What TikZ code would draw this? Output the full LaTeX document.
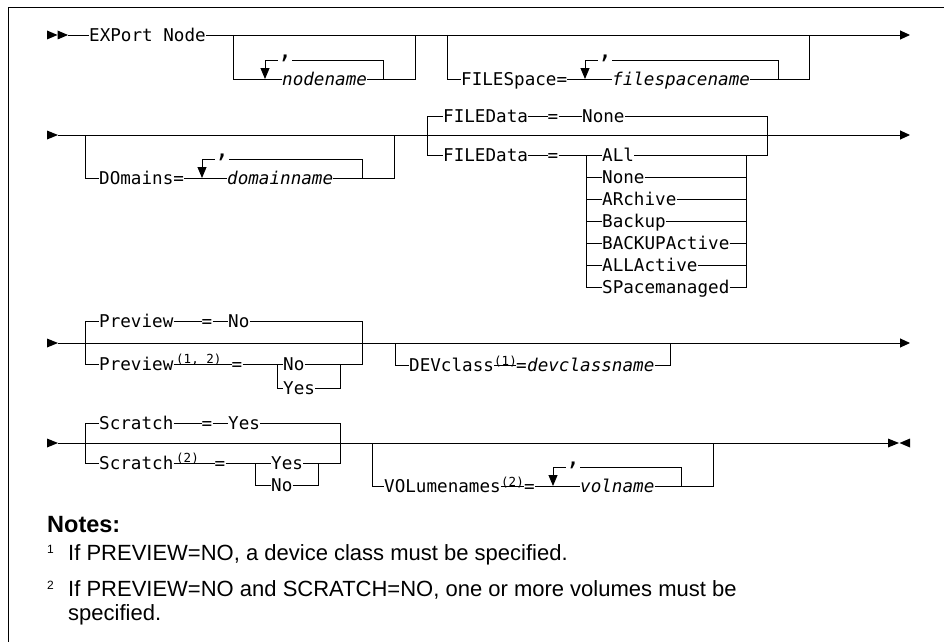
\documentclass[tikz,border=0pt]{standalone}
\usepackage{fontspec}
\setmainfont{Liberation Sans}
\newfontfamily\mono{DejaVu Sans Mono}
\usetikzlibrary{arrows.meta}
\begin{document}
\begin{tikzpicture}[x=1pt,y=-1pt,
  rail/.style={line width=0.9pt},
  kw/.style={font=\mono\fontsize{17.6}{20}\selectfont, inner sep=0pt, text height=12.8pt, text depth=0pt, anchor=west},
  var/.style={kw, font=\mono\itshape\fontsize{17.6}{20}\selectfont},
  eqs/.style={kw, anchor=center},
  sup/.style={font=\mono\fontsize{12.5}{14}\selectfont, inner sep=0pt, anchor=base west},
  comma/.style={font=\mono\fontsize{24}{26}\selectfont, inner sep=0pt, text height=0pt, text depth=0pt, anchor=center},
  tip/.style={rail,-{Triangle[width=9pt,length=10pt]}},
  down/.style={rail,-{Triangle[width=9pt,length=11pt]}},
  note/.style={font=\fontsize{22}{24}\selectfont, inner sep=0pt, anchor=base west},
  nsup/.style={font=\fontsize{12}{14}\selectfont, inner sep=0pt, anchor=base west},
]
\useasboundingbox (0,0) rectangle (944,642);
% frame
\coordinate (fr1) at (944,7); \coordinate (fr2) at (8,7); \coordinate (fr3) at (8,642);
\draw[rail] (fr1) -- (fr2) -- (fr3);

% ================= Row 1 =================
\fill (47,30.5) -- (57.5,35) -- (47,39.5) -- cycle;
\fill (57.5,30.5) -- (68,35) -- (57.5,39.5) -- cycle;
\coordinate (s1) at (68,35);
\coordinate (e1) at (910,35);
\node[kw] (exp) at (89,35) {EXPort Node};
\draw[rail] (s1) -- (exp);
\draw[tip] (exp) -- (e1);
% nodename bracket
\coordinate (b1l) at (233,35); \coordinate (b1r) at (415,35);
\node[var] (nn) at (282,79) {nodename};
\draw[rail] (b1l) |- (nn.west);
\draw[rail] (nn.east) -| (b1r);
\coordinate (l1a) at (265,79); \coordinate (l1b) at (383,79);
\node[comma] (c1) at (285,58.5) {,};
\draw[rail] (l1b) |- ([yshift=-1.5pt]c1.east);
\draw[down] ([yshift=-1.5pt]c1.west) -| (l1a);
% FILESpace bracket
\coordinate (b2l) at (447,35); \coordinate (b2r) at (809,35);
\node[kw] (fs) at (461,79) {FILESpace=};
\node[var] (fsn) at (612,79) {filespacename};
\draw[rail] (b2l) |- (fs.west);
\draw[rail] (fs.east) -- (fsn.west);
\draw[rail] (fsn.east) -| (b2r);
\coordinate (l2a) at (585,79); \coordinate (l2b) at (778,79);
\node[comma] (c2) at (605,58.5) {,};
\draw[rail] (l2b) |- ([yshift=-1.5pt]c2.east);
\draw[down] ([yshift=-1.5pt]c2.west) -| (l2a);

% ================= Row 2 =================
\fill (47,130.5) -- (58,135) -- (47,139.5) -- cycle;
\coordinate (s2) at (58,135); \coordinate (e2) at (910,135);
\draw[tip] (s2) -- (e2);
% DOmains bracket
\coordinate (b3l) at (85,135); \coordinate (b3r) at (394,135);
\node[kw] (dom) at (99,178) {DOmains=};
\node[var] (domn) at (227,178) {domainname};
\draw[rail] (b3l) |- (dom.west);
\draw[rail] (dom.east) -- (domn.west);
\draw[rail] (domn.east) -| (b3r);
\coordinate (l3a) at (202,178); \coordinate (l3b) at (362,178);
\node[comma] (c3) at (222,157.5) {,};
\draw[rail] (l3b) |- ([yshift=-1.5pt]c3.east);
\draw[down] ([yshift=-1.5pt]c3.west) -| (l3a);
% FILEData block
\coordinate (fdl) at (427,116); \coordinate (fdr) at (767,116);
\node[kw] (fd1) at (443,116) {FILEData};
\node[eqs] (fq1) at (553,116) {=};
\node[kw] (fnone) at (582,116) {None};
\draw[rail] (fdl) -- (fd1);
\draw[rail] (fd1) -- (fq1);
\draw[rail] (fq1) -- (fnone);
\draw[rail] (fnone) -- (fdr);
\node[kw] (fd2) at (443,155) {FILEData};
\node[eqs] (fq2) at (553,155) {=};
\draw[rail] (fdl) |- (fd2.west);
\draw[rail] (fd2) -- (fq2);
\coordinate (chl) at (586,155); \coordinate (chr) at (746,155);
\node[kw] (ch1) at (602,155) {ALl};
\node[kw] (ch2) at (602,177) {None};
\node[kw] (ch3) at (602,199) {ARchive};
\node[kw] (ch4) at (602,221) {Backup};
\node[kw] (ch5) at (602,243) {BACKUPActive};
\node[kw] (ch6) at (602,265) {ALLActive};
\node[kw] (ch7) at (602,287) {SPacemanaged};
\draw[rail] (fq2) -- (ch1);
\draw[rail] (chl) |- (ch7.west);
\foreach \c in {ch2,ch3,ch4,ch5,ch6} {
  \draw[rail] (chl |- \c.west) -- (\c.west);
  \draw[rail] (\c.east) -- (chr |- \c.east);
}
\draw[rail] (ch7.east) -| (chr);
\draw[rail] (ch1.east) -| (fdr);

% ================= Row 3 =================
\fill (47,338.5) -- (58,343) -- (47,347.5) -- cycle;
\coordinate (s3) at (58,343); \coordinate (e3) at (910,343);
\draw[tip] (s3) -- (e3);
% Preview
\coordinate (pvl) at (85,321); \coordinate (pvr) at (362,321);
\node[kw] (pv1) at (99,321) {Preview};
\node[eqs] (pq1) at (207,321) {=};
\node[kw] (pno) at (228,321) {No};
\draw[rail] (pvl) -- (pv1);
\draw[rail] (pv1) -- (pq1);
\draw[rail] (pq1) -- (pno);
\draw[rail] (pno) -- (pvr);
\node[kw] (pv2) at (99,364) {Preview};
\node[sup] (pvs) at (176,363.5) {(1, 2)};
\node[eqs] (pq2) at (237,364) {=};
\draw[rail] (pvl) |- (pv2.west);
\draw[rail] (pv2) -- (pq2);
\coordinate (pcl) at (277,364); \coordinate (pcr) at (340,364);
\node[kw] (pc1) at (283,364) {No};
\node[kw] (pc2) at (283,388) {Yes};
\draw[rail] (pq2) -- (pc1);
\draw[rail] (pcl) |- (pc2.west);
\draw[rail] (pc1) -- (pcr);
\draw[rail] (pc2.east) -| (pcr);
\draw[rail] (pcr) -| (pvr);
% DEVclass
\coordinate (dvl) at (395,343); \coordinate (dvr) at (670,343);
\node[kw] (dv) at (409,365) {DEVclass};
\node[sup] (dvs) at (494,365) {(1)};
\node[kw] (dveq) at (516,365) {=};
\node[var] (dvn) at (527,365) {devclassname};
\draw[rail] (dvl) |- (dv.west);
\draw[rail] (dv.east) -- (dveq.west);
\draw[rail] (dvn.east) -| (dvr);

% ================= Row 4 =================
\fill (47,438.5) -- (58,443) -- (47,447.5) -- cycle;
\coordinate (s4) at (58,443); \coordinate (e4) at (888,443);
\draw[rail] (s4) -- (e4);
\fill (888,438.5) -- (899,443) -- (888,447.5) -- cycle;
\fill (910,438.5) -- (899.5,443) -- (910,447.5) -- cycle;
% Scratch
\coordinate (scl) at (85,423); \coordinate (scr) at (340,423);
\node[kw] (sc1) at (99,423) {Scratch};
\node[eqs] (sq1) at (207,423) {=};
\node[kw] (syes) at (228,423) {Yes};
\draw[rail] (scl) -- (sc1);
\draw[rail] (sc1) -- (sq1);
\draw[rail] (sq1) -- (syes);
\draw[rail] (syes) -- (scr);
\node[kw] (sc2) at (99,463) {Scratch};
\node[sup] (scs) at (176,462.5) {(2)};
\node[eqs] (sq2) at (220,463) {=};
\draw[rail] (scl) |- (sc2.west);
\draw[rail] (sc2) -- (sq2);
\coordinate (scc) at (255,463); \coordinate (sccr) at (318,463);
\node[kw] (scyes) at (271,463) {Yes};
\node[kw] (scno) at (271,485) {No};
\draw[rail] (sq2) -- (scyes);
\draw[rail] (scc) |- (scno.west);
\draw[rail] (scyes) -- (sccr);
\draw[rail] (scno.east) -| (sccr);
\draw[rail] (sccr) -| (scr);
% VOLumenames
\coordinate (vl) at (372,443); \coordinate (vr) at (713,443);
\node[kw] (vol) at (384,486) {VOLumenames};
\node[sup] (vols) at (501,486) {(2)};
\node[kw] (veq) at (524,486) {=};
\node[var] (voln) at (580,486) {volname};
\draw[rail] (vl) |- (vol.west);
\draw[rail] (vol.east) -- (veq.west);
\draw[rail] (veq.east) -- (voln.west);
\draw[rail] (voln.east) -| (vr);
\coordinate (l4a) at (553,486); \coordinate (l4b) at (681,486);
\node[comma] (c4) at (573,465.5) {,};
\draw[rail] (l4b) |- ([yshift=-1.5pt]c4.east);
\draw[down] ([yshift=-1.5pt]c4.west) -| (l4a);

% ================= Notes =================
\node[note, font=\bfseries\fontsize{23.5}{26}\selectfont] (nt) at (47,532) {Notes:};
\node[nsup] (n1s) at (47,553.5) {1};
\node[note] (n1) at (68,560) {If PREVIEW=NO, a device class must be specified.};
\node[nsup] (n2s) at (47,589.5) {2};
\node[note] (n2) at (68,596) {If PREVIEW=NO and SCRATCH=NO, one or more volumes must be};
\node[note] (n2b) at (68,620) {specified.};
\end{tikzpicture}
\end{document}
